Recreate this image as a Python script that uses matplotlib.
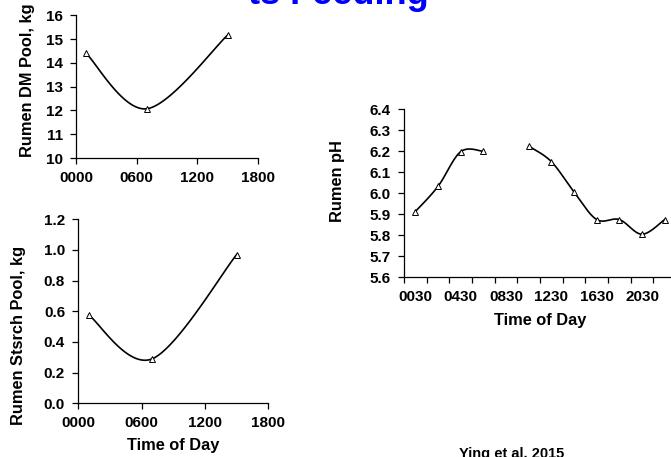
import numpy as np
import matplotlib
matplotlib.use("Agg")
import matplotlib.pyplot as plt
from matplotlib.ticker import FixedLocator, NullFormatter

plt.rcParams["font.family"] = ["Liberation Sans", "DejaVu Sans"]
plt.rcParams["font.weight"] = "bold"

W, H = 671, 457

# DM pool (top left)
dm_time = [100, 700, 1500]
dm_pool = [14.4, 12.07, 15.17]

# starch pool (bottom left)
st_time = [100, 700, 1500]
st_pool = [0.575, 0.29, 0.97]

# rumen pH (right), every 2 h, 0830 missing
ph_times = ["0030", "0230", "0430", "0630", "0830", "1030",
            "1230", "1430", "1630", "1830", "2030", "2230"]
ph_vals = [5.913, 6.033, 6.198, 6.200, np.nan, 6.225,
           6.151, 6.006, 5.875, 5.875, 5.805, 5.875]

left_ticks = [0, 600, 1200, 1800]
left_ticklabels = ["0000", "0600", "1200", "1800"]

LABEL_FS = 11.8


def smooth(x, y, n=40):
    # Excel-like smoothed line (Bezier through points)
    pts = np.column_stack([x, y]).astype(float)
    if len(pts) < 2:
        return pts
    out = []
    t = np.linspace(0, 1, n)[:, None]
    for i in range(len(pts) - 1):
        p0 = pts[max(i - 1, 0)]
        p1 = pts[i]
        p2 = pts[i + 1]
        p3 = pts[min(i + 2, len(pts) - 1)]
        c1 = p1 + (p2 - p0) / 6
        c2 = p2 - (p3 - p1) / 6
        out.append((1 - t) ** 3 * p1 + 3 * (1 - t) ** 2 * t * c1
                   + 3 * (1 - t) * t ** 2 * c2 + t ** 3 * p2)
    return np.vstack(out)


def px_axes(fig, x0, y_top, x1, y_bot):
    return fig.add_axes([x0 / W, 1 - y_bot / H, (x1 - x0) / W, (y_bot - y_top) / H])


def style(ax):
    for s in ("top", "right"):
        ax.spines[s].set_visible(False)
    for s in ("left", "bottom"):
        ax.spines[s].set_linewidth(0.9)
    ax.tick_params(direction="out", length=4.5, width=0.9, labelsize=11, pad=5)
    ax.set_facecolor("none")


def draw_series(ax, x, y):
    x = np.asarray(x, float)
    y = np.asarray(y, float)
    ok = ~np.isnan(y)
    # split into runs of valid values
    runs, cur = [], []
    for i in range(len(y)):
        if ok[i]:
            cur.append(i)
        elif cur:
            runs.append(cur)
            cur = []
    if cur:
        runs.append(cur)
    for r in runs:
        c = smooth(x[r], y[r])
        ax.plot(c[:, 0], c[:, 1], color="black", lw=1.2, zorder=2, clip_on=False)
    ax.plot(x[ok], y[ok], ls="none", marker="^", ms=5, mfc="white",
            mec="black", mew=0.7, zorder=3, clip_on=False)


fig = plt.figure(figsize=(W / 100, H / 100), dpi=100)
fig.patch.set_facecolor("white")

# ── top left: DM pool ──
ax1 = px_axes(fig, 76, 15.3, 258, 158)
style(ax1)
draw_series(ax1, dm_time, dm_pool)
ax1.set_xlim(0, 1800)
ax1.set_ylim(10, 16)
ax1.set_xticks(left_ticks)
ax1.set_xticklabels(left_ticklabels)
ax1.set_yticks(range(10, 17))
ax1.set_ylabel("Rumen DM Pool, kg", fontsize=LABEL_FS, fontweight="bold")
ax1.yaxis.set_label_coords(-0.269, 0.547)
ax1.yaxis.label.set_va("center")

# ── bottom left: starch pool ──
ax2 = px_axes(fig, 78.3, 219.3, 268.3, 403.3)
style(ax2)
draw_series(ax2, st_time, st_pool)
ax2.set_xlim(0, 1800)
ax2.set_ylim(0, 1.2)
ax2.set_xticks(left_ticks)
ax2.set_xticklabels(left_ticklabels)
ax2.set_yticks(np.arange(0, 1.21, 0.2))
ax2.set_yticklabels([f"{v:.1f}" for v in np.arange(0, 1.21, 0.2)])
ax2.set_ylabel("Rumen Stsrch Pool, kg", fontsize=LABEL_FS, fontweight="bold")
ax2.yaxis.set_label_coords(-0.317, 0.371)
ax2.yaxis.label.set_va("center")
ax2.set_xlabel("Time of Day", fontsize=LABEL_FS, fontweight="bold")
ax2.xaxis.set_label_coords(0.5, -0.227)
ax2.xaxis.label.set_va("center")

# ── right: rumen pH ──
ax3 = px_axes(fig, 404, 109.3, 676, 277.3)
style(ax3)
pos = np.arange(len(ph_times))
draw_series(ax3, pos, ph_vals)
ax3.set_xlim(-0.5, len(ph_times) - 0.5)
ax3.set_ylim(5.6, 6.4)
ax3.set_yticks(np.arange(5.6, 6.41, 0.1))
ax3.set_yticklabels([f"{v:.1f}" for v in np.arange(5.6, 6.41, 0.1)])
ax3.set_xticks(pos[::2])
ax3.set_xticklabels(ph_times[::2])
ax3.tick_params(axis="x", which="major", length=0, pad=9.5)
ax3.xaxis.set_minor_locator(FixedLocator(np.arange(-0.5, len(ph_times), 1.0)))
ax3.xaxis.set_minor_formatter(NullFormatter())
ax3.tick_params(axis="x", which="minor", direction="out", length=4.5, width=0.9)
ax3.set_ylabel("Rumen pH", fontsize=LABEL_FS, fontweight="bold")
ax3.yaxis.set_label_coords(-0.243, 0.573)
ax3.yaxis.label.set_va("center")
ax3.set_xlabel("Time of Day", fontsize=LABEL_FS, fontweight="bold")
ax3.xaxis.set_label_coords(0.5, -0.26)
ax3.xaxis.label.set_va("center")

# clipped title and citation
fig.text(338 / W, 1 - 4.5 / H, "ts Feeding", ha="center", va="baseline",
         color="#0000ff", fontsize=26, fontweight="bold")
fig.text(512 / W, 1 - 447 / H, "Ying et al. 2015", ha="center", va="top",
         color="black", fontsize=10.5, fontweight="bold")

fig.savefig("out.png", dpi=100)
